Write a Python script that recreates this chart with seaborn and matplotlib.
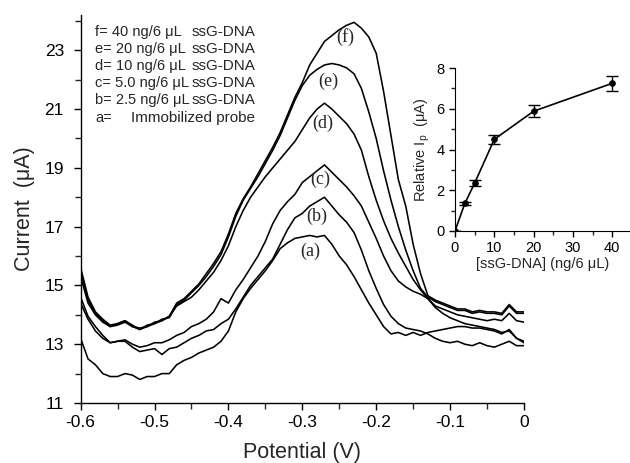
import numpy as np
import pandas as pd
import seaborn as sns
import matplotlib
matplotlib.use('Agg')
import matplotlib.pyplot as plt
from matplotlib.ticker import FixedLocator, FixedFormatter

# potential grid (V), 0.01 V steps from -0.6 to 0
potential = np.round(np.linspace(-0.6, 0.0, 61), 2)

# currents (uA)
cur_f = [15.6, 14.6, 14.1, 13.85, 13.65, 13.7, 13.8, 13.6, 13.55, 13.6,
         13.75, 13.8, 13.95, 14.4, 14.55, 14.8, 15.05, 15.4, 15.75, 16.15,
         16.75, 17.45, 17.95, 18.35, 18.8, 19.25, 19.7, 20.2, 20.8, 21.4,
         21.9, 22.5, 22.9, 23.3, 23.5, 23.7, 23.85, 23.95, 23.75, 23.45,
         22.9, 21.6, 20.1, 18.6, 17.7, 16.4, 15.4, 14.65, 14.5, 14.4,
         14.3, 14.2, 14.2, 14.1, 14.15, 14.1, 14.1, 14.05, 14.35, 14.1, 14.1]
cur_e = [15.5, 14.5, 14.05, 13.8, 13.6, 13.65, 13.75, 13.6, 13.5, 13.65,
         13.7, 13.85, 13.9, 14.35, 14.5, 14.75, 15.0, 15.3, 15.65, 16.05,
         16.65, 17.35, 17.9, 18.3, 18.7, 19.15, 19.6, 20.1, 20.7, 21.3,
         21.8, 22.15, 22.35, 22.5, 22.55, 22.5, 22.4, 22.2, 21.7, 20.9,
         20.0, 18.9, 17.9, 17.0, 16.2, 15.5, 14.9, 14.6, 14.45, 14.35,
         14.25, 14.15, 14.15, 14.05, 14.1, 14.05, 14.05, 14.0, 14.3, 14.05, 14.05]
cur_d = [15.3, 14.4, 14.0, 13.75, 13.6, 13.7, 13.8, 13.65, 13.5, 13.6,
         13.7, 13.8, 13.95, 14.3, 14.45, 14.6, 14.85, 15.15, 15.45, 15.85,
         16.35, 17.0, 17.55, 18.0, 18.35, 18.7, 19.0, 19.3, 19.6, 19.9,
         20.3, 20.7, 21.0, 21.2, 21.0, 20.75, 20.5, 20.15, 19.6, 18.7,
         17.9, 17.2, 16.6, 16.1, 15.65, 15.2, 14.85, 14.55, 14.3, 14.2,
         14.1, 14.0, 13.95, 13.9, 13.85, 13.8, 13.85, 13.8, 14.05, 13.8, 13.75]
cur_c = [14.6, 13.95, 13.6, 13.3, 13.05, 13.1, 13.15, 13.0, 12.9, 12.95,
         13.05, 13.05, 13.15, 13.3, 13.4, 13.6, 13.7, 13.85, 14.1, 14.55,
         14.4, 14.85, 15.2, 15.6, 16.0, 16.5, 17.1, 17.55, 17.85, 18.1,
         18.5, 18.7, 18.9, 19.1, 18.85, 18.6, 18.35, 18.05, 17.7, 17.15,
         16.6, 16.0, 15.5, 15.15, 14.95, 14.8, 14.7, 14.55, 14.25, 14.05,
         13.9, 13.8, 13.7, 13.65, 13.6, 13.55, 13.5, 13.4, 13.45, 13.2, 13.1]
cur_b = [14.4, 13.85, 13.45, 13.2, 13.05, 13.1, 13.1, 12.9, 12.75, 12.8,
         12.85, 12.65, 12.85, 12.9, 13.05, 13.2, 13.3, 13.45, 13.5, 13.7,
         13.85, 14.2, 14.6, 15.0, 15.3, 15.6, 15.9, 16.4, 16.9, 17.3,
         17.45, 17.7, 17.85, 18.0, 17.7, 17.4, 17.15, 16.8, 16.2, 15.5,
         14.9, 14.35, 13.95, 13.7, 13.55, 13.5, 13.45, 13.35, 13.2, 13.1,
         13.05, 13.1, 13.0, 12.95, 13.05, 12.95, 12.9, 13.0, 13.1, 12.95, 12.95]
cur_a = [13.2, 12.5, 12.3, 12.0, 11.9, 11.9, 12.0, 11.95, 11.8, 11.9,
         11.9, 12.0, 12.0, 12.3, 12.45, 12.55, 12.7, 12.8, 12.9, 13.1,
         13.45, 14.1, 14.55, 14.9, 15.2, 15.5, 15.85, 16.25, 16.45, 16.6,
         16.65, 16.7, 16.65, 16.7, 16.4, 16.0, 15.7, 15.3, 14.85, 14.4,
         14.0, 13.6, 13.35, 13.4, 13.3, 13.4, 13.3, 13.4, 13.45, 13.5,
         13.55, 13.6, 13.6, 13.55, 13.55, 13.5, 13.45, 13.35, 13.5, 13.2, 13.05]

curve_names = ['a', 'b', 'c', 'd', 'e', 'f']
curve_values = [cur_a, cur_b, cur_c, cur_d, cur_e, cur_f]
label_pos = {'a': (-0.289, 16.15), 'b': (-0.28, 17.35), 'c': (-0.276, 18.6),
             'd': (-0.273, 20.5), 'e': (-0.265, 21.95), 'f': (-0.242, 23.45)}

legend_left = ['f= 40 ng/6 μL', 'e= 20 ng/6 μL', 'd= 10 ng/6 μL',
               'c= 5.0 ng/6 μL', 'b= 2.5 ng/6 μL', 'a=']
legend_right = ['ssG-DNA', 'ssG-DNA', 'ssG-DNA', 'ssG-DNA', 'ssG-DNA',
                'Immobilized probe']

# inset: relative peak current vs concentration
conc = [0, 2.5, 5, 10, 20, 40]
rel_ip = [0, 1.35, 2.35, 4.5, 5.88, 7.25]
rel_err = [0.0, 0.06, 0.14, 0.22, 0.3, 0.36]

xtick_vals = [-0.6, -0.5, -0.4, -0.3, -0.2, -0.1, 0.0]
xtick_labels = ['-0.6', '-0.5', '-0.4', '-0.3', '-0.2', '-0.1', '0']
ytick_vals = [11, 13, 15, 17, 19, 21, 23]

df = pd.DataFrame({
    'Potential': np.tile(potential, len(curve_names)),
    'Current': np.concatenate(curve_values),
    'curve': np.repeat(curve_names, len(potential)),
})
df_in = pd.DataFrame({'conc': conc, 'ip': rel_ip})

sns.set_style('ticks')
plt.rcParams['font.family'] = ['Liberation Sans', 'DejaVu Sans']
plt.rcParams['mathtext.fontset'] = 'custom'
plt.rcParams['mathtext.rm'] = 'Liberation Sans'
plt.rcParams['mathtext.it'] = 'Liberation Sans'

fig = plt.figure(figsize=(6.3, 4.63), dpi=100)
ax = fig.add_axes([0.128, 0.1296, 0.7037, 0.838])

sns.lineplot(data=df, x='Potential', y='Current', units='curve', estimator=None,
             color='black', linewidth=1.15, sort=False, ax=ax, legend=False)

ax.set_xlim(-0.6, 0.0)
ax.set_ylim(11, 24.2)
ax.xaxis.set_major_locator(FixedLocator(xtick_vals))
ax.xaxis.set_major_formatter(FixedFormatter(xtick_labels))
ax.xaxis.set_minor_locator(FixedLocator([-0.55, -0.45, -0.35, -0.25, -0.15, -0.05]))
ax.yaxis.set_major_locator(FixedLocator(ytick_vals))
ax.yaxis.set_minor_locator(FixedLocator([12, 14, 16, 18, 20, 22, 24]))
ax.tick_params(which='major', direction='out', length=5, width=1, labelsize=12.5, colors='black')
ax.tick_params(axis='y', which='major', pad=7)
ax.tick_params(which='minor', direction='out', length=4, width=1)
for s in ['top', 'right']:
    ax.spines[s].set_visible(False)
for s in ['left', 'bottom']:
    ax.spines[s].set_color('black')
    ax.spines[s].set_linewidth(1)
ax.set_xlabel('Potential (V)', fontsize=15.5, labelpad=9)
ax.set_ylabel('Current  (μA)', fontsize=15.5, labelpad=7)

for name in curve_names:
    x, y = label_pos[name]
    ax.text(x, y, '(' + name + ')', fontsize=13, family='Liberation Serif',
            ha='center', va='center')

legend_y = [32, 49, 66, 83, 100, 118]
for left, right, ypx in zip(legend_left, legend_right, legend_y):
    fig.text(95 / 630, 1 - ypx / 463, left, fontsize=10.5, va='center')
    xr = 131 if right.startswith('Imm') else 192
    fig.text(xr / 630, 1 - ypx / 463, right, fontsize=11, va='center')

# inset
axi = fig.add_axes([0.7222, 0.5011, 0.2778, 0.352])
axi.errorbar(conc, rel_ip, yerr=rel_err, fmt='none', ecolor='black',
             elinewidth=1, capsize=4, capthick=1)
sns.lineplot(data=df_in, x='conc', y='ip', color='black', linewidth=1.2,
             marker='o', markersize=4, markeredgecolor='black', ax=axi)
axi.set_xlim(0, 44.5)
axi.set_ylim(0, 8)
axi.xaxis.set_major_locator(FixedLocator([0, 10, 20, 30, 40]))
axi.xaxis.set_minor_locator(FixedLocator([5, 15, 25, 35]))
axi.yaxis.set_major_locator(FixedLocator([0, 2, 4, 6, 8]))
axi.yaxis.set_minor_locator(FixedLocator([1, 3, 5, 7]))
axi.tick_params(which='major', direction='out', length=4, width=1, labelsize=10.5, colors='black')
axi.tick_params(which='minor', direction='out', length=3, width=1)
axi.patch.set_alpha(0)
for s in ['top', 'right']:
    axi.spines[s].set_visible(False)
for s in ['left', 'bottom']:
    axi.spines[s].set_color('black')
axi.set_xlabel('[ssG-DNA] (ng/6 μL)', fontsize=10.5, labelpad=1)
axi.set_ylabel('Relative I$_{\\rm p}$  (μA)', fontsize=10.5, labelpad=3)

fig.savefig('out.png', dpi=100)
